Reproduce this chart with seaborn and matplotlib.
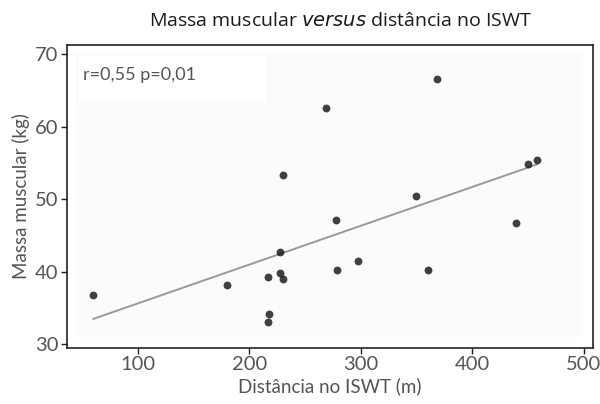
import numpy as np
import pandas as pd
import matplotlib
matplotlib.use("Agg")
import matplotlib.pyplot as plt
from matplotlib.patches import Rectangle
import seaborn as sns

# ISWT distance (m) and muscle mass (kg)
distancia = [60, 180, 217, 218, 217, 228, 228, 230, 230, 269,
             278, 279, 298, 350, 360, 368, 439, 450, 458]
massa = [36.8, 38.2, 39.3, 34.2, 33.1, 42.7, 39.9, 39.0, 53.4, 62.5,
         47.1, 40.2, 41.5, 50.4, 40.3, 66.5, 46.7, 54.8, 55.4]
x_ticks = [100, 200, 300, 400, 500]
y_ticks = [30, 40, 50, 60, 70]
anotacao = "r=0,55 p=0,01"

df = pd.DataFrame({"dist": distancia, "massa": massa})

sns.set_style("ticks")
plt.rcParams["font.family"] = ["Lato", "DejaVu Sans"]

fig = plt.figure(figsize=(6, 4.04), dpi=100)
ax = fig.add_axes([0.1117, 0.1386, 0.8766, 0.75])

# light inner panel and white box behind the annotation
ax.add_patch(Rectangle((0.017, 0.035), 0.96, 0.94, transform=ax.transAxes,
                       facecolor="#fbfbfb", edgecolor="none", zorder=0))
ax.add_patch(Rectangle((0.023, 0.815), 0.355, 0.15, transform=ax.transAxes,
                       facecolor="white", edgecolor="none", zorder=0))

sns.regplot(data=df, x="dist", y="massa", ax=ax, ci=None,
            scatter_kws={"color": "#111111", "s": 32, "linewidths": 0, "zorder": 3},
            line_kws={"color": "#999999", "lw": 1.4, "zorder": 2})

ax.set_xlim(36.6, 508.3)
ax.set_ylim(29.5, 71.24)
ax.set_xticks(x_ticks)
ax.set_yticks(y_ticks)
ax.tick_params(labelsize=14.5, labelcolor="#555555", color="#222222",
               length=4, width=1, pad=2)
for sp in ax.spines.values():
    sp.set_visible(True)
    sp.set_color("#222222")
    sp.set_linewidth(1.2)

ax.set_xlabel("Distância no ISWT (m)", fontsize=13.5, color="#555555", labelpad=3)
ax.set_ylabel("Massa muscular (kg)", fontsize=13.5, color="#555555", labelpad=4)

ax.text(0.03, 0.9, anotacao, transform=ax.transAxes, fontsize=13,
        color="#555555", va="center", ha="left")

fig.text(0.567, 0.948, "Massa muscular $\\it{versus}$ distância no ISWT",
         ha="center", va="center", fontsize=14, color="#1a1a1a",
         family=["Open Sans", "DejaVu Sans"])

fig.savefig("out.png", dpi=100, facecolor="white")
